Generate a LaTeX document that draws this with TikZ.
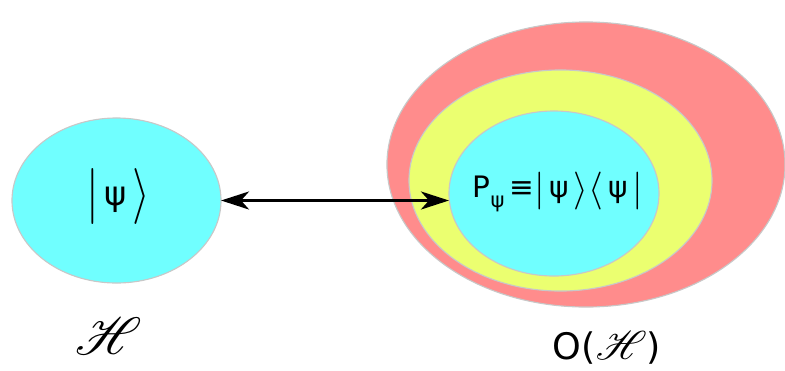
\documentclass[tikz,border=0pt]{standalone}
\usepackage{fontspec}
\usepackage{mathrsfs}
\setmainfont{DejaVu Sans}
\usetikzlibrary{arrows.meta,shapes.geometric}
\definecolor{cCyan}{HTML}{70FFFF}
\definecolor{cYellow}{HTML}{EBFF70}
\definecolor{cRed}{HTML}{FF8C8C}
\definecolor{cEdge}{HTML}{C8C8C8}
% tall delimiters, #1 = vertical stretch
\newcommand{\kbar}[1]{\raisebox{-0.12em}{\scalebox{1.3}[#1]{$\Big|$}}}
\newcommand{\kopen}[1]{\raisebox{-0.12em}{\scalebox{1.3}[#1]{$\Big\langle$}}}
\newcommand{\kclose}[1]{\raisebox{-0.12em}{\scalebox{1.3}[#1]{$\Big\rangle$}}}
\newcommand{\hilbsym}[1]{\scalebox{#1}{$\mathscr{H}$}}

\begin{document}
\begin{tikzpicture}[
  x=0.025cm, y=-0.025cm,
  every node/.style={font=\fontsize{21}{25}\selectfont},
  blob/.style={ellipse, draw=cEdge, line width=0.8pt, inner sep=0pt, outer sep=0pt},
]

\useasboundingbox (0,0) rectangle (785,370);

% left: the state space
\node[blob,fill=cCyan,minimum width=5.225cm,minimum height=4.125cm] (hilb) at (116.5,200.5) {};
\node[font=\fontsize{24}{28}\selectfont] (ket) at (118,196) {\kbar{1.6}\,ψ\,\kclose{1.6}};
\node (hlabel) at (109,336) {\hilbsym{1.8}};

% right: nested operator sets
\node[blob,fill=cRed,minimum width=9.95cm,minimum height=7.125cm] (outer) at (586,164.5) {};
\node[blob,fill=cYellow,minimum width=7.575cm,minimum height=5.525cm] (middle) at (560.5,180.5) {};
\node[blob,fill=cCyan,minimum width=5.25cm,minimum height=4.125cm] (inner) at (554,193.5) {};
\node (proj) at (558,192) {P\raisebox{-0.6ex}{\fontsize{15}{15}\selectfont ψ}\,≡\kbar{1.3}\,ψ\,\kclose{1.3}\kopen{1.3}\,ψ\,\kbar{1.3}};
\node[font=\fontsize{26}{30}\selectfont] (olabel) at (607,348) {O(\hilbsym{1.15})};

\draw[{Stealth[length=0.7cm,width=0.45cm,inset=0.2cm]}-{Stealth[length=0.7cm,width=0.45cm,inset=0.2cm]}, line width=2pt]
  (hilb.east) -- (hilb.east -| inner.west);

\end{tikzpicture}
\end{document}
